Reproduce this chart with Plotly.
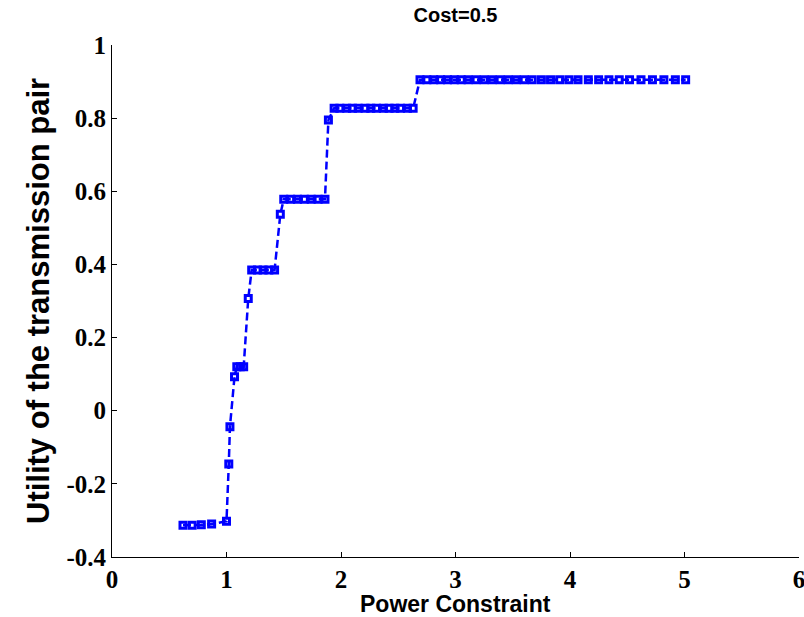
import plotly.graph_objects as go

# Power constraint (x) and utility (y)
power = [0.62, 0.70, 0.78, 0.87, 1.00, 1.02, 1.03, 1.07,
         1.09, 1.12, 1.15, 1.19,
         1.22, 1.27, 1.32, 1.37, 1.42, 1.47,
         1.50, 1.56, 1.62, 1.68, 1.74, 1.80, 1.86, 1.89,
         1.94, 1.99, 2.05, 2.10, 2.15, 2.21, 2.26, 2.31, 2.37, 2.42, 2.47, 2.52, 2.58, 2.63,
         2.69, 2.75, 2.81, 2.87, 2.93, 2.99, 3.05, 3.11, 3.18, 3.25, 3.32, 3.39, 3.46,
         3.53, 3.60, 3.67, 3.75, 3.83, 3.91, 3.99, 4.07, 4.16, 4.25, 4.34, 4.43, 4.52,
         4.62, 4.72, 4.82, 4.92, 5.01]
utility = [-0.313, -0.313, -0.312, -0.310, -0.302, -0.146, -0.044, 0.093,
           0.120, 0.120, 0.120, 0.307,
           0.385, 0.385, 0.385, 0.385, 0.385, 0.537,
           0.578, 0.578, 0.578, 0.578, 0.578, 0.578, 0.578, 0.795,
           0.827, 0.827, 0.827, 0.827, 0.827, 0.827, 0.827, 0.827, 0.827, 0.827, 0.827, 0.827, 0.827, 0.827,
           0.905, 0.905, 0.905, 0.905, 0.905, 0.905, 0.905, 0.905, 0.905, 0.905, 0.905, 0.905, 0.905,
           0.905, 0.905, 0.905, 0.905, 0.905, 0.905, 0.905, 0.905, 0.905, 0.905, 0.905, 0.905, 0.905,
           0.905, 0.905, 0.905, 0.905, 0.905]

x_ticks = [0, 1, 2, 3, 4, 5, 6]
y_ticks = [-0.4, -0.2, 0, 0.2, 0.4, 0.6, 0.8, 1]
y_tick_labels = ["-0.4", "-0.2", "0", "0.2", "0.4", "0.6", "0.8", "1"]

title_text = "Cost=0.5"
x_title = "Power Constraint"
y_title = "Utility of the transmission pair"

fig = go.Figure()
fig.add_trace(go.Scatter(
    x=power, y=utility, mode="lines+markers",
    line=dict(color="#0000ff", width=2.5, dash="8px,4px"),
    marker=dict(symbol="square-open", size=6, color="#0000ff",
                line=dict(color="#0000ff", width=3)),
    showlegend=False,
))

serif = "Liberation Serif"
sans = "Liberation Sans"

fig.update_layout(
    width=804, height=617,
    margin=dict(l=112, r=5, t=45, b=60),
    paper_bgcolor="white", plot_bgcolor="white",
    title=dict(text="<b>" + title_text + "</b>", x=0.5, xref="paper", xanchor="center",
               y=1 - 15 / 617, yref="container", yanchor="middle",
               font=dict(family=sans, size=20, color="black")),
    xaxis=dict(range=[0, 6], tickvals=x_ticks, ticktext=["<b>%d</b>" % v for v in x_ticks],
               automargin=False, ticklabeloverflow="allow",
               showgrid=False, zeroline=False, showline=True, linecolor="black", linewidth=1,
               ticks="inside", ticklen=5, tickcolor="black",
               tickfont=dict(family=serif, size=25, color="black")),
    yaxis=dict(range=[-0.4, 1], tickvals=y_ticks, ticktext=["<b>%s</b>" % t for t in y_tick_labels],
               automargin=False, ticklabeloverflow="allow",
               showgrid=False, zeroline=False, showline=True, linecolor="black", linewidth=1,
               ticks="inside", ticklen=5, tickcolor="black",
               tickfont=dict(family=serif, size=25, color="black")),
    annotations=[
        dict(text="<b>" + x_title + "</b>", xref="paper", yref="paper", x=0.5, y=-47 / 512,
             xanchor="center", yanchor="middle", showarrow=False,
             font=dict(family=sans, size=23, color="black")),
        dict(text="<b>" + y_title + "</b>", xref="paper", yref="paper", x=-74 / 687, y=0.5,
             xanchor="center", yanchor="middle", showarrow=False, textangle=-90,
             font=dict(family=sans, size=31, color="black")),
    ],
)

fig.write_html("out.html", config={"displayModeBar": False},
               post_script="document.body.style.margin='0';document.body.style.overflow='hidden';")
